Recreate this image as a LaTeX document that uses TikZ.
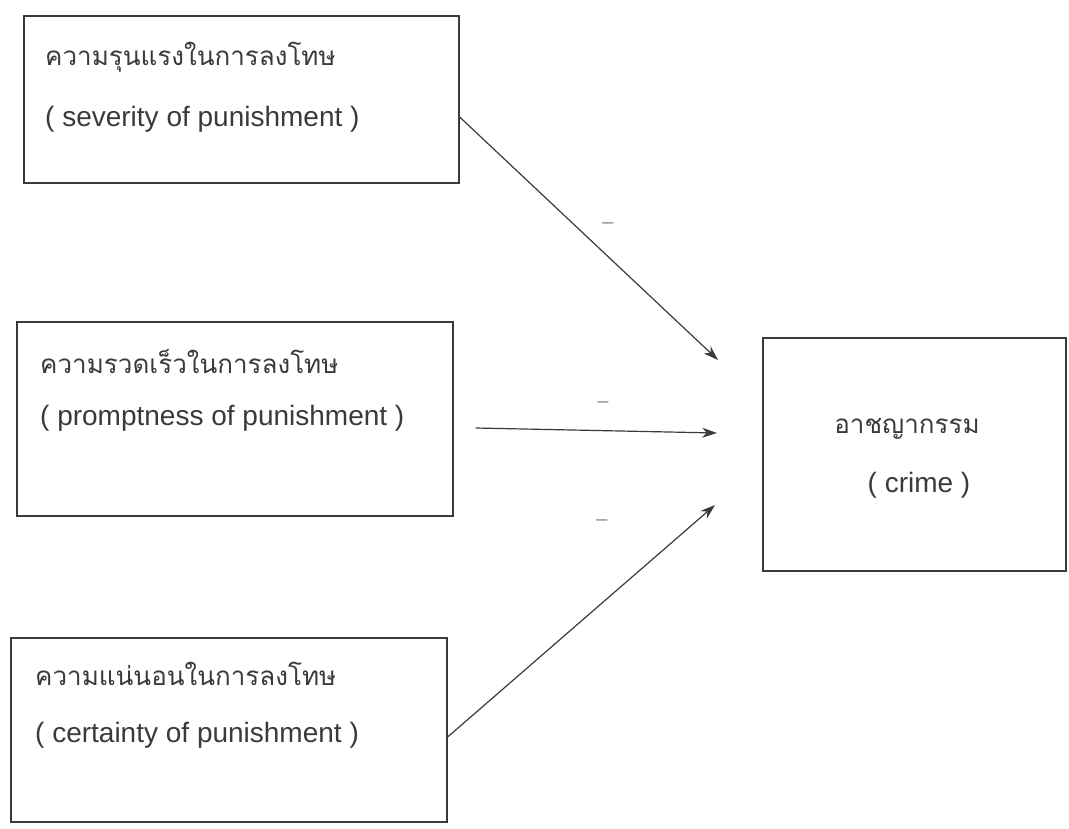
\documentclass[tikz,border=0pt]{standalone}
\usepackage{fontspec}
\setmainfont{Liberation Sans}
\newfontfamily\thaifont[Script=Thai]{Loma}
\usetikzlibrary{arrows.meta}
\definecolor{ink}{HTML}{3A3A3A}
\definecolor{dashc}{HTML}{8A8A8A}
\tikzset{
  box/.style={draw=ink, line width=1.3pt, rectangle, inner sep=0pt},
  thtext/.style={anchor=base west, inner sep=0pt, text=ink, font=\thaifont\fontsize{26}{30}\selectfont},
  entext/.style={anchor=base west, inner sep=0pt, text=ink, font=\fontsize{28}{30}\selectfont},
  conn/.style={draw=ink, line width=1.2pt, -{Stealth[length=15pt,width=10pt]}},
  signlbl/.style={inner sep=0pt, text=dashc, font=\fontsize{20}{22}\selectfont}
}
\begin{document}
\begin{tikzpicture}[x=1pt,y=-1pt]
\useasboundingbox (0,0) rectangle (1069,828);
% boxes
\node[box, minimum width=435pt, minimum height=167pt] (b1) at (241.5,99.5) {};
\node[box, minimum width=436pt, minimum height=194pt] (b2) at (235,419) {};
\node[box, minimum width=436pt, minimum height=184pt] (b3) at (229,730) {};
\node[box, minimum width=303pt, minimum height=233pt] (cr) at (914.5,454.5) {};
% texts
\node[thtext] (t1a) at (45,65) {ความรุนแรงในการลงโทษ};
\node[entext] (t1b) at (45,126) {( severity of punishment )};
\node[thtext] (t2a) at (40,373) {ความรวดเร็วในการลงโทษ};
\node[entext] (t2b) at (40,425) {( promptness of punishment )};
\node[thtext] (t3a) at (35,685) {ความแน่นอนในการลงโทษ};
\node[entext] (t3b) at (35,742) {( certainty of punishment )};
\node[thtext, anchor=base] (tca) at (907,433) {อาชญากรรม};
\node[entext, anchor=base] (tcb) at (919,492) {( crime )};
% arrow ends
\coordinate (e1) at (718,360);
\coordinate (e2) at (717,433);
\coordinate (e3) at (715,505);
\draw[conn] ([yshift=-17.5pt]b1.east) -- (e1);
\draw[conn] ([xshift=22pt,yshift=-9pt]b2.east) -- (e2);
\draw[conn] ([yshift=-7pt]b3.east) -- (e3);
% sign labels
\node[signlbl] (m1) at (608,226) {–};
\node[signlbl] (m2) at (603,405) {–};
\node[signlbl] (m3) at (602,523) {–};
\end{tikzpicture}
\end{document}
